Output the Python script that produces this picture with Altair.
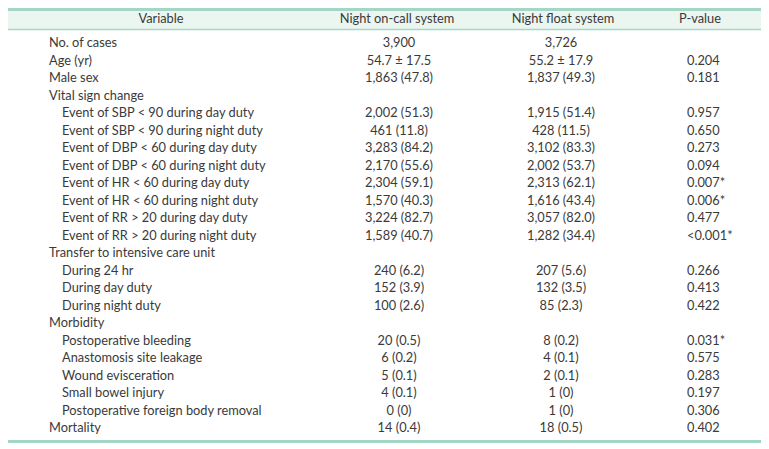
import altair as alt
import pandas as pd

labels = ["No. of cases", "Age (yr)", "Male sex", "Vital sign change",
          "Event of SBP < 90 during day duty", "Event of SBP < 90 during night duty",
          "Event of DBP < 60 during day duty", "Event of DBP < 60 during night duty",
          "Event of HR < 60 during day duty", "Event of HR < 60 during night duty",
          "Event of RR > 20 during day duty", "Event of RR > 20 during night duty",
          "Transfer to intensive care unit", "During 24 hr", "During day duty",
          "During night duty", "Morbidity", "Postoperative bleeding",
          "Anastomosis site leakage", "Wound evisceration", "Small bowel injury",
          "Postoperative foreign body removal", "Mortality"]
indent = [0, 0, 0, 0, 1, 1, 1, 1, 1, 1, 1, 1, 0, 1, 1, 1, 0, 1, 1, 1, 1, 1, 0]
oncall = ["3,900", "54.7 ± 17.5", "1,863 (47.8)", "", "2,002 (51.3)", "461 (11.8)",
          "3,283 (84.2)", "2,170 (55.6)", "2,304 (59.1)", "1,570 (40.3)", "3,224 (82.7)",
          "1,589 (40.7)", "", "240 (6.2)", "152 (3.9)", "100 (2.6)", "", "20 (0.5)",
          "6 (0.2)", "5 (0.1)", "4 (0.1)", "0 (0)", "14 (0.4)"]
nightfloat = ["3,726", "55.2 ± 17.9", "1,837 (49.3)", "", "1,915 (51.4)", "428 (11.5)",
              "3,102 (83.3)", "2,002 (53.7)", "2,313 (62.1)", "1,616 (43.4)", "3,057 (82.0)",
              "1,282 (34.4)", "", "207 (5.6)", "132 (3.5)", "85 (2.3)", "", "8 (0.2)",
              "4 (0.1)", "2 (0.1)", "1 (0)", "1 (0)", "18 (0.5)"]
pvalue = ["", "0.204", "0.181", "", "0.957", "0.650", "0.273", "0.094", "0.007*",
          "0.006*", "0.477", "<0.001*", "", "0.266", "0.413", "0.422", "", "0.031*",
          "0.575", "0.283", "0.197", "0.306", "0.402"]
headers = ["Variable", "Night on-call system", "Night float system", "P-value"]

df = pd.DataFrame({
    "row": list(range(len(labels))),
    "label": labels,
    "indent": indent,
    "oncall": oncall,
    "nightfloat": nightfloat,
    "pvalue": pvalue,
})
one = pd.DataFrame({"a": [0]})

FONT = "Lato"
FS = 12.8
TXT = "#3a3a3a"
LINE = "#a3d6c4"
BG = "#ebf6f1"
W, H = 753, 440

yenc = alt.Y("row:O", scale=alt.Scale(type="point", domain=list(range(len(labels))),
                                      range=[35, 420], padding=0), axis=None)

def col_text(field, xpos, align):
    return alt.Chart(df).mark_text(font=FONT, fontSize=FS, color=TXT, align=align,
                                   baseline="middle").encode(
        x=alt.value(xpos), y=yenc, text=alt.Text(f"{field}:N"))

top_lbl = alt.Chart(df).transform_filter("datum.indent == 0").mark_text(
    font=FONT, fontSize=FS, color=TXT, align="left", baseline="middle").encode(
    x=alt.value(41), y=yenc, text="label:N")
sub_lbl = alt.Chart(df).transform_filter("datum.indent == 1").mark_text(
    font=FONT, fontSize=FS, color=TXT, align="left", baseline="middle").encode(
    x=alt.value(54), y=yenc, text="label:N")

hdr_bg = alt.Chart(one).mark_rect(color=BG).encode(
    x=alt.value(0), x2=alt.value(W), y=alt.value(2), y2=alt.value(21.5))
top_rule = alt.Chart(one).mark_rule(color=LINE, strokeWidth=3).encode(
    x=alt.value(0), x2=alt.value(W), y=alt.value(1.5))
hdr_rule = alt.Chart(one).mark_rule(color=LINE, strokeWidth=1.5).encode(
    x=alt.value(0), x2=alt.value(W), y=alt.value(21.5))
bot_rule = alt.Chart(one).mark_rule(color=LINE, strokeWidth=3).encode(
    x=alt.value(0), x2=alt.value(W), y=alt.value(433.5))

hx = [153, 389, 555, 692]
hdr_layers = [
    alt.Chart(one).mark_text(text=h, font=FONT, fontSize=FS, color=TXT, align="center",
                             baseline="middle").encode(x=alt.value(x), y=alt.value(10.5))
    for h, x in zip(headers, hx)
]

chart = alt.layer(
    hdr_bg, top_rule, hdr_rule, bot_rule, *hdr_layers,
    top_lbl, sub_lbl,
    col_text("oncall", 391, "center"),
    col_text("nightfloat", 553, "center"),
    col_text("pvalue", 679, "left"),
).properties(
    width=W, height=H, autosize=alt.AutoSizeParams(type="none"), padding=0,
    background="white",
).configure_view(stroke=None)

chart.save("out.html", embed_options={"renderer": "svg", "actions": False})
